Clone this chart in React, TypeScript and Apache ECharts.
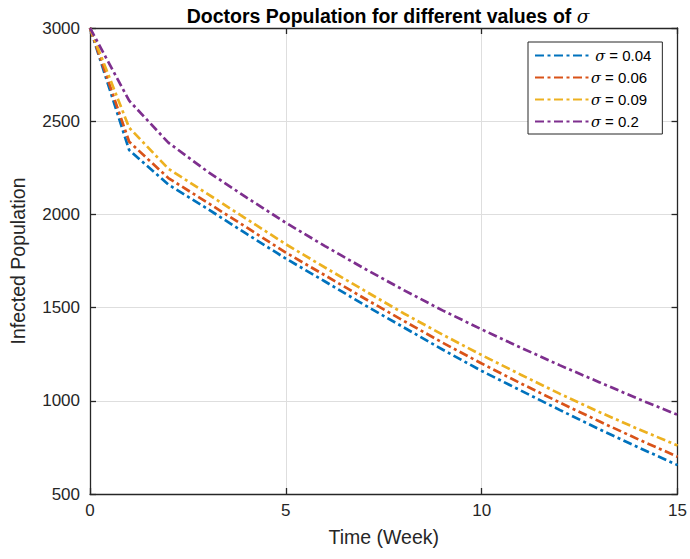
import React, { useEffect, useRef } from "react";
import * as echarts from "echarts";

const weeks = [0, 1, 2, 3, 4, 5, 6, 7, 8, 9, 10, 11, 12, 13, 14, 15];
const sigma004 = [3000, 2345, 2160, 2030, 1895, 1763, 1640, 1515, 1395, 1275, 1160, 1055, 950, 848, 750, 655];
const sigma006 = [3000, 2390, 2195, 2063, 1930, 1795, 1673, 1550, 1430, 1312, 1200, 1093, 990, 890, 793, 700];
const sigma009 = [3000, 2465, 2245, 2110, 1975, 1840, 1715, 1592, 1470, 1355, 1245, 1140, 1037, 940, 848, 760];
const sigma02 = [3000, 2610, 2385, 2230, 2090, 1955, 1830, 1710, 1595, 1485, 1383, 1285, 1190, 1100, 1010, 925];
const seriesNames = [" σ = 0.04", "σ = 0.06", "σ = 0.09", "σ = 0.2"];
const colors = ["#0072BD", "#D95319", "#EDB120", "#7E2F8E"];
const xTicks = [0, 5, 10, 15];
const yTicks = [500, 1000, 1500, 2000, 2500, 3000];

const FONT = "Liberation Sans, Arial, Helvetica, sans-serif";
const SERIF = "DejaVu Serif, Liberation Serif, serif";

export default function App() {
  const ref = useRef<HTMLDivElement>(null);
  useEffect(() => {
    if (!ref.current) return;
    document.body.style.margin = "0";
    const chart = echarts.init(ref.current, null, { renderer: "svg" });
    const all = [sigma004, sigma006, sigma009, sigma02];
    const axisCommon = {
      axisLine: { show: true, onZero: false, lineStyle: { color: "#262626", width: 1.3 } },
      axisTick: { show: true, inside: true, length: 6, lineStyle: { color: "#262626", width: 1.3 } },
      minorTick: { show: false },
    };
    chart.setOption({
      animation: false,
      backgroundColor: "#ffffff",
      title: {
        text: "Doctors Population for different values of {s|σ}",
        left: 383,
        textAlign: "center",
        top: 1,
        textStyle: {
          fontFamily: FONT,
          fontSize: 19.5,
          fontWeight: "bold",
          color: "#000",
          rich: { s: { fontFamily: SERIF, fontStyle: "italic", fontWeight: "normal", fontSize: 18.5, color: "#000" } },
        },
      },
      legend: {
        orient: "vertical",
        left: 528,
        top: 42,
        itemWidth: 54,
        itemHeight: 14,
        itemGap: 7,
        padding: [6, 11, 5, 6],
        borderColor: "#262626",
        borderWidth: 1,
        backgroundColor: "#fff",
        itemStyle: { opacity: 0 },
        data: seriesNames,
        formatter: (n: string) => n.replace("σ", "{s|σ}"),
        textStyle: {
          fontFamily: FONT,
          fontSize: 15,
          color: "#000",
          padding: [0, 0, 0, -3],
          rich: { s: { fontFamily: SERIF, fontStyle: "italic", fontSize: 14.5, color: "#000" } },
        },
      },
      grid: { left: 88, right: 12, top: 28, bottom: 65, containLabel: false },
      xAxis: [
        {
          type: "value",
          min: 0,
          max: 15,
          interval: 5,
          name: "Time (Week)",
          nameLocation: "middle",
          nameGap: 33,
          nameTextStyle: { fontFamily: FONT, fontSize: 19.5, color: "#262626" },
          axisLabel: {
            fontFamily: FONT,
            fontSize: 17,
            color: "#262626",
            margin: 8,
            customValues: xTicks,
            formatter: (v: number) => String(v),
          },
          splitLine: { show: true, lineStyle: { color: "#dedede", width: 1 } },
          ...axisCommon,
        },
        {
          type: "value",
          position: "top",
          min: 0,
          max: 15,
          interval: 5,
          axisLabel: { show: false },
          splitLine: { show: false },
          ...axisCommon,
        },
      ],
      yAxis: [
        {
          type: "value",
          min: 500,
          max: 3000,
          interval: 500,
          name: "Infected Population",
          nameLocation: "middle",
          nameGap: 62,
          nameTextStyle: { fontFamily: FONT, fontSize: 19.5, color: "#262626" },
          axisLabel: {
            fontFamily: FONT,
            fontSize: 17,
            color: "#262626",
            margin: 10,
            customValues: yTicks,
            formatter: (v: number) => String(v),
          },
          splitLine: { show: true, lineStyle: { color: "#dedede", width: 1 } },
          ...axisCommon,
        },
        {
          type: "value",
          position: "right",
          min: 500,
          max: 3000,
          interval: 500,
          axisLabel: { show: false },
          splitLine: { show: false },
          ...axisCommon,
        },
      ],
      series: all.map((vals, i) => ({
        name: seriesNames[i],
        type: "line",
        xAxisIndex: 0,
        yAxisIndex: 0,
        showSymbol: false,
        symbol: "none",
        data: weeks.map((w, j) => [w, vals[j]]),
        lineStyle: { color: colors[i], width: 2.7, type: [9, 3.5, 3, 3.5] },
        itemStyle: { color: colors[i] },
      })),
    });
    return () => chart.dispose();
  }, []);
  return <div ref={ref} style={{ width: 690, height: 559 }} />;
}
